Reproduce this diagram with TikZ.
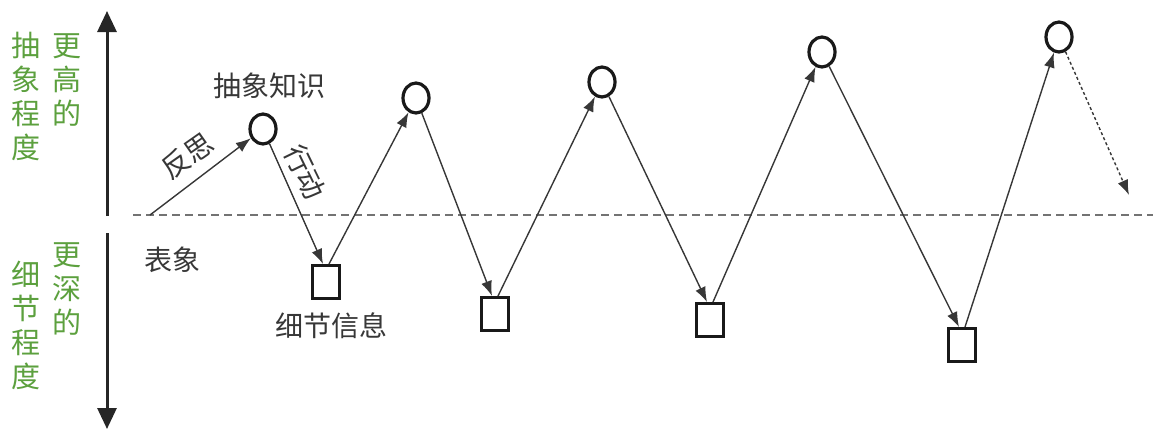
\documentclass[tikz,border=0pt]{standalone}
\usepackage{fontspec}
\newfontfamily\cjk{Noto Sans CJK SC}
\usetikzlibrary{arrows.meta,shapes.geometric}
\definecolor{axisgreen}{RGB}{92,160,62}
\definecolor{inkgray}{RGB}{55,55,55}
\begin{document}
\begin{tikzpicture}[x=1pt,y=-1pt,
  lbl/.style={font=\cjk\fontsize{28}{30}\selectfont, text=inkgray, inner sep=0pt},
  greentxt/.style={font=\cjk\fontsize{29}{34}\selectfont, text=axisgreen, align=center, inner sep=0pt},
  idea/.style={ellipse, draw=black!90, line width=3.2pt, minimum width=26pt, minimum height=30pt, inner sep=0pt},
  detail/.style={rectangle, draw=black!90, line width=3pt, minimum width=27pt, minimum height=33pt, inner sep=0pt},
  flow/.style={draw=inkgray, line width=1.4pt, -{Latex[length=15pt,width=11pt]}},
  axis/.style={draw=black!85, line width=3pt, -{Triangle[length=21pt,width=19pt]}},
  baseline/.style={draw=black!55, line width=1.2pt, dash pattern=on 8pt off 5pt},
  nextstep/.style={draw=inkgray, line width=1.4pt, dash pattern=on 3pt off 2.5pt, -{Latex[length=15pt,width=11pt]}}
]
\useasboundingbox (0,0) rectangle (1153,434);
% axis
\coordinate (axmidU) at (107,216);
\coordinate (axtop) at (107,11);
\coordinate (axmidD) at (107,233);
\coordinate (axbot) at (107,429);
\draw[axis] (axmidU) -- (axtop);
\draw[axis] (axmidD) -- (axbot);
% green labels
\node[greentxt] (gA) at (26,96) {抽\\象\\程\\度};
\node[greentxt] (gB) at (67,80) {更\\高\\的};
\node[greentxt] (gC) at (26,325) {细\\节\\程\\度};
\node[greentxt] (gD) at (67,289) {更\\深\\的};
% dashed baseline
\coordinate (blL) at (133,215);
\coordinate (blR) at (1153,215);
\draw[baseline] (blL) -- (blR);
% nodes
\node[idea] (c1) at (263,129) {};
\node[idea] (c2) at (416,98) {};
\node[idea] (c3) at (602,82) {};
\node[idea] (c4) at (822,52) {};
\node[idea] (c5) at (1059,37) {};
\node[detail] (s1) at (326,282) {};
\node[detail] (s2) at (495,314) {};
\node[detail] (s3) at (710,320) {};
\node[detail] (s4) at (962,345) {};
\coordinate (start) at (150,215);
\coordinate (fin) at (1129,195);
% connectors
\draw[flow] (start) -- (c1);
\draw[flow] (c1) -- ([xshift=-3pt]s1.north);
\draw[flow] ([xshift=3pt]s1.north) -- (c2);
\draw[flow] (c2) -- ([xshift=-3pt]s2.north);
\draw[flow] ([xshift=3pt]s2.north) -- (c3);
\draw[flow] (c3) -- ([xshift=-3pt]s3.north);
\draw[flow] ([xshift=3pt]s3.north) -- (c4);
\draw[flow] (c4) -- ([xshift=-3pt]s4.north);
\draw[flow] ([xshift=3pt]s4.north) -- (c5);
\draw[nextstep] (c5) -- (fin);
% labels
\node[lbl] (tAbs) at (269,86) {抽象知识};
\node[lbl] (tSurf) at (172,260) {表象};
\node[lbl] (tDet) at (331,326) {细节信息};
\node[lbl, rotate=35] (tRef) at (187,156) {反思};
\node[lbl, rotate=-64] (tAct) at (305,172) {行动};
\end{tikzpicture}
\end{document}
